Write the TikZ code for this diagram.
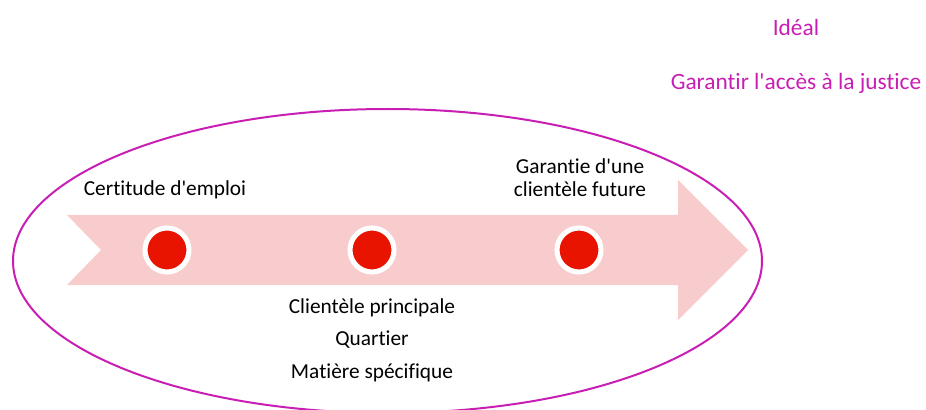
\documentclass[tikz,border=0pt]{standalone}
\usepackage{fontspec}
\setmainfont{Carlito}[Ligatures=NoCommon]
\usepackage{xcolor}
\usepackage{tikz}
\usetikzlibrary{positioning,calc}
\definecolor{softpink}{RGB}{248,204,204}
\definecolor{dotred}{RGB}{232,20,0}
\definecolor{violetline}{RGB}{200,30,180}
\newcommand{\apos}{\textquotesingle}

\begin{document}
\begin{tikzpicture}[x=0.75pt, y=-0.75pt, font=\fontsize{16}{17.5}\selectfont,
    lbl/.style={align=center, inner sep=1pt, text=black},
    ideal/.style={align=center, inner sep=1pt, text=violetline,
                  font=\fontsize{17.5}{19}\selectfont},
    dot/.style={circle, fill=dotred, draw=white, line width=3.8pt,
                minimum size=33pt, inner sep=0pt}]

    \useasboundingbox (0,0) rectangle (926,410);

    % cadre
    \draw[violetline, line width=1.5pt] (387.5,261) ellipse [x radius=374.5, y radius=152];

    % fleche
    \fill[softpink] (67,215) -- (678,215) -- (678,180) -- (748,250)
        -- (678,320) -- (678,285) -- (67,285) -- (101,250) -- cycle;

    \node[dot] (d1) at (167,250) {};
    \node[dot] (d2) at (372,250) {};
    \node[dot] (d3) at (579,250) {};

    \node[lbl] (emploi) at (165,190) {Certitude d\apos emploi};
    \node[lbl] (future) at (580,178) {Garantie d\apos une\\clientèle future};
    \node[lbl] (principale) at (372,308) {Clientèle principale};
    \node[lbl] (quartier) at (372,340) {Quartier};
    \node[lbl] (matiere) at (372,373) {Matière spécifique};

    \node[ideal] (idealtitre) at (796,27) {Idéal};
    \node[ideal] (justice) at (796,83) {Garantir l\apos accès à la justice};
\end{tikzpicture}
\end{document}
